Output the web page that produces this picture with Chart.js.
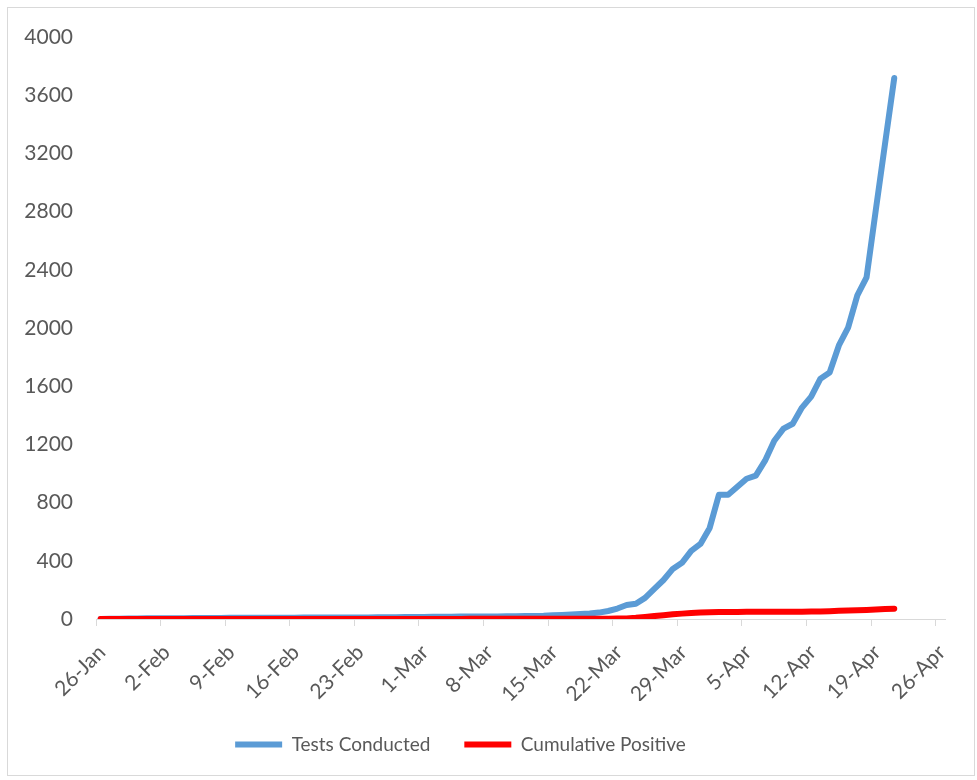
<!DOCTYPE html>
<html>
<head>
<meta charset="utf-8">
<title>Tests Conducted vs Cumulative Positive</title>
<script src="https://cdn.jsdelivr.net/npm/chart.js@4.4.1/dist/chart.umd.min.js"></script>
<style>
  html, body { margin: 0; padding: 0; background: #fff; }
  #wrap { position: relative; width: 977px; height: 780px; }
  #frame { position: absolute; left: 7px; top: 7px; width: 968px; height: 769px; border: 1px solid #d9d9d9; box-sizing: border-box; }
  #chart { position: absolute; left: 0; top: 0; }
</style>
</head>
<body>
<div id="wrap">
  <div id="frame"></div>
  <canvas id="chart" width="977" height="780"></canvas>
</div>
<script>
// Daily axis, 26-Jan to 26-Apr (2020), labelled every 7 days
const dateLabels = [
  '26-Jan','27-Jan','28-Jan','29-Jan','30-Jan','31-Jan',
  '1-Feb','2-Feb','3-Feb','4-Feb','5-Feb','6-Feb','7-Feb','8-Feb','9-Feb','10-Feb',
  '11-Feb','12-Feb','13-Feb','14-Feb','15-Feb','16-Feb','17-Feb','18-Feb','19-Feb','20-Feb',
  '21-Feb','22-Feb','23-Feb','24-Feb','25-Feb','26-Feb','27-Feb','28-Feb','29-Feb',
  '1-Mar','2-Mar','3-Mar','4-Mar','5-Mar','6-Mar','7-Mar','8-Mar','9-Mar','10-Mar',
  '11-Mar','12-Mar','13-Mar','14-Mar','15-Mar','16-Mar','17-Mar','18-Mar','19-Mar','20-Mar',
  '21-Mar','22-Mar','23-Mar','24-Mar','25-Mar','26-Mar','27-Mar','28-Mar','29-Mar','30-Mar','31-Mar',
  '1-Apr','2-Apr','3-Apr','4-Apr','5-Apr','6-Apr','7-Apr','8-Apr','9-Apr','10-Apr',
  '11-Apr','12-Apr','13-Apr','14-Apr','15-Apr','16-Apr','17-Apr','18-Apr','19-Apr','20-Apr',
  '21-Apr','22-Apr','23-Apr','24-Apr','25-Apr','26-Apr'
];

// one value per day starting 26-Jan, last one is 21-Apr
const testsConducted = [
  0, 1, 2, 3, 4, 5, 5,
  6, 6, 6, 7, 7, 7, 7,
  8, 8, 8, 8, 9, 9, 9,
  9, 10, 10, 10, 10, 11, 11,
  11, 11, 12, 12, 12, 13, 13,
  14, 15, 16, 16, 17, 17, 17,
  18, 18, 19, 19, 20, 21, 22,
  25, 28, 31, 34, 38, 44, 55,
  72, 96, 105, 145, 207, 268, 344,
  386, 468, 516, 626, 854, 854, 909,
  964, 985, 1088, 1225, 1308, 1342, 1453,
  1528, 1652, 1694, 1880, 2003, 2224, 2348,
  2810, 3265, 3718
];

const cumulativePositive = [
  0, 0, 0, 0, 0, 0, 0,
  0, 0, 0, 0, 0, 0, 0,
  0, 0, 0, 0, 0, 0, 0,
  0, 0, 0, 0, 0, 0, 0,
  0, 0, 0, 0, 0, 0, 0,
  0, 0, 0, 0, 0, 1, 1,
  1, 1, 1, 1, 1, 1, 1,
  1, 1, 2, 2, 2, 2, 2,
  3, 4, 8, 14, 20, 26, 32,
  37, 41, 44, 46, 48, 48, 48,
  49, 49, 49, 49, 50, 50, 50,
  51, 52, 54, 56, 58, 60, 62,
  65, 68, 71
];

const yTicks = { min: 0, max: 4000, step: 400 };

const FONT_FAMILY = 'Lato, "Open Sans", sans-serif';
const AXIS_FONT = { family: FONT_FAMILY, size: 21 };
const LEGEND_FONT = { family: FONT_FAMILY, size: 19 };
const TEXT_COLOR = '#595959';
const AXIS_COLOR = '#d9d9d9';

// points sit in the middle of each day band, like Excel's date axis
function toPoints(values) {
  return values.map((v, i) => ({ x: i + 0.5, y: v }));
}

// nudge the legend to the left, Excel doesn't center it on the plot
const legendShift = {
  id: 'legendShift',
  afterLayout(chart) {
    if (chart.legend) {
      chart.legend.left -= 12;
      chart.legend.right -= 12;
    }
  }
};

const chart = new Chart(document.getElementById('chart'), {
  type: 'line',
  data: {
    datasets: [
      {
        label: 'Tests Conducted',
        data: toPoints(testsConducted),
        borderColor: '#5B9BD5',
        backgroundColor: '#5B9BD5',
        borderWidth: 6,
        borderCapStyle: 'round',
        borderJoinStyle: 'round',
        pointRadius: 0,
        tension: 0,
        order: 1
      },
      {
        label: 'Cumulative Positive',
        data: toPoints(cumulativePositive),
        borderColor: '#FF0000',
        backgroundColor: '#FF0000',
        borderWidth: 6,
        borderCapStyle: 'round',
        borderJoinStyle: 'round',
        pointRadius: 0,
        tension: 0,
        order: 0
      }
    ]
  },
  options: {
    responsive: false,
    animation: false,
    events: [],
    layout: { padding: { top: 37, right: 32, left: 0, bottom: 16 } },
    plugins: {
      tooltip: { enabled: false },
      legend: {
        position: 'bottom',
        labels: {
          color: TEXT_COLOR,
          font: LEGEND_FONT,
          usePointStyle: true,
          pointStyle: 'line',
          pointStyleWidth: 47,
          padding: 34,
          sort: (a, b) => a.datasetIndex - b.datasetIndex
        }
      }
    },
    scales: {
      x: {
        type: 'linear',
        min: 0,
        max: dateLabels.length,
        afterFit: (scale) => { scale.height = 82; },
        grid: {
          display: true,
          drawOnChartArea: false,
          drawTicks: true,
          tickLength: 7,
          color: AXIS_COLOR
        },
        border: { display: true, color: AXIS_COLOR, width: 1 },
        ticks: {
          stepSize: 7,
          includeBounds: false,
          autoSkip: false,
          minRotation: 45,
          maxRotation: 45,
          padding: 14,
          labelOffset: 6,
          color: TEXT_COLOR,
          font: AXIS_FONT,
          callback: (value) => dateLabels[value]
        }
      },
      y: {
        min: yTicks.min,
        max: yTicks.max,
        afterFit: (scale) => { scale.width = 96; },
        grid: { display: false, drawTicks: false },
        border: { display: false },
        ticks: {
          stepSize: yTicks.step,
          padding: 23,
          color: TEXT_COLOR,
          font: AXIS_FONT,
          callback: (value) => String(value)
        }
      }
    }
  },
  plugins: [legendShift]
});
</script>
</body>
</html>
